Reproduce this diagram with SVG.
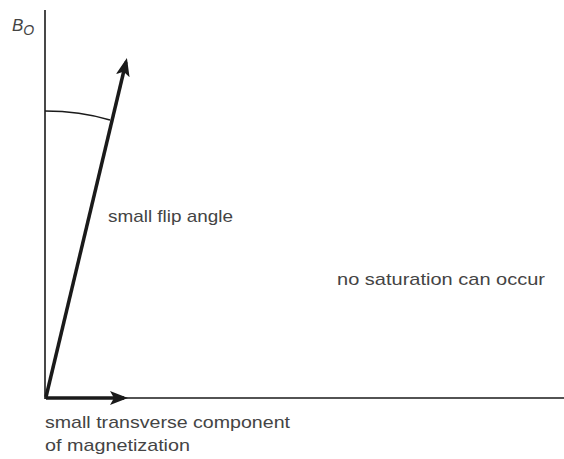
<svg xmlns="http://www.w3.org/2000/svg" width="564" height="459" viewBox="0 0 564 459">
<style>
.ax{stroke:#1a1a1a;stroke-width:1.6;fill:none}
.vec{stroke:#1a1a1a;stroke-width:3.5;fill:none}
.t{font-family:"Liberation Sans",Arial,sans-serif;font-size:17px;fill:#444}
</style>
<defs>
<marker id="ah2" markerWidth="18" markerHeight="14" refX="14" refY="7" orient="auto" markerUnits="userSpaceOnUse" viewBox="0 0 18 14">
<path d="M0,0 L18,7 L0,14 L4,7 Z" fill="#1a1a1a"/>
</marker>
</defs>
<g id="connectors">
<line class="ax" x1="45" y1="10" x2="45" y2="399"/>
<line class="ax" x1="45" y1="398" x2="564" y2="398"/>
<line class="vec" x1="46" y1="397" x2="126" y2="62" marker-end="url(#ah2)"/>
<line class="vec" x1="46" y1="398" x2="124" y2="398" marker-end="url(#ah2)"/>
<path class="ax" d="M45,111 Q80,111 110,120"/>
</g>
<g id="label-B0"><text class="t" x="12" y="31" font-style="italic" font-size="20">B<tspan font-size="14" dy="4">O</tspan></text></g>
<g id="label-flip"><text class="t" x="108" y="222" textLength="125" lengthAdjust="spacingAndGlyphs">small flip angle</text></g>
<g id="label-sat"><text class="t" x="337" y="285" textLength="208" lengthAdjust="spacingAndGlyphs">no saturation can occur</text></g>
<g id="label-trans"><text class="t" x="45" y="428" textLength="245" lengthAdjust="spacingAndGlyphs">small transverse component</text><text class="t" x="45" y="451" textLength="145" lengthAdjust="spacingAndGlyphs">of magnetization</text></g>
</svg>
